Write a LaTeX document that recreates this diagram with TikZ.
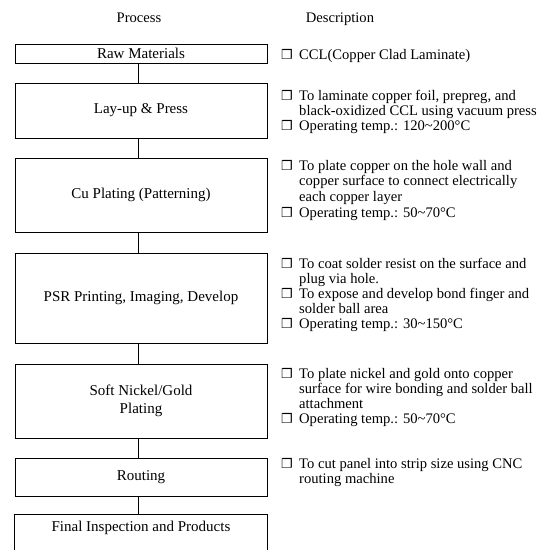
\documentclass[tikz,border=0pt]{standalone}
\usepackage{fontspec}
\setmainfont{Liberation Serif}
\newfontfamily\dejavufam{DejaVu Sans}
\newcommand\myboxfont{\fontsize{15}{18.5}\selectfont}
\newcommand\mydescfont{\fontsize{14.6}{15}\selectfont}
\newcommand\mybulfont{\dejavufam\fontsize{13}{13}\selectfont}
\tikzset{
  box/.style={draw, line width=1pt, minimum width=252pt, inner sep=0pt, font=\myboxfont, align=center},
  link/.style={line width=1pt},
  desc/.style={anchor=base west, inner sep=0pt, font=\mydescfont},
  bul/.style={anchor=base west, inner sep=0pt, font=\mybulfont},
  head/.style={anchor=base, inner sep=0pt, font=\mydescfont}
}
\begin{document}
\begin{tikzpicture}[x=1pt,y=-1pt]
\useasboundingbox (0,0) rectangle (548,550);
% headers
\node[head] (hproc) at (139,22) {Process};
\node[head] (hdesc) at (340,22) {Description};
% process boxes
\node[box, minimum height=19pt] (raw) at (141,53.5) {Raw Materials};
\node[box, minimum height=55pt] (lay) at (141,110.5) {Lay-up \& Press};
\node[box, minimum height=74pt] (cu) at (141,195) {Cu Plating (Patterning)};
\node[box, minimum height=90pt] (psr) at (141,298) {PSR Printing, Imaging, Develop};
\node[box, minimum height=74pt] (ni) at (141,401) {Soft Nickel/Gold\\Plating};
\node[box, minimum height=38pt] (rout) at (141,477) {Routing};
\node[box, draw=none, minimum height=35pt] (fin) at (141,532.5) {};
\draw[link] (fin.south west) -- (fin.north west) -- (fin.north east) -- (fin.south east);
\node[head, font=\myboxfont] (fintxt) at (141,531.5) {Final Inspection and Products};
% connectors
\draw[link] ([xshift=-3pt]raw.south) -- ([xshift=-3pt]lay.north);
\draw[link] ([xshift=-3pt]lay.south) -- ([xshift=-3pt]cu.north);
\draw[link] ([xshift=-3pt]cu.south) -- ([xshift=-3pt]psr.north);
\draw[link] ([xshift=-3pt]psr.south) -- ([xshift=-3pt]ni.north);
\draw[link] ([xshift=-3pt]ni.south) -- ([xshift=-3pt]rout.north);
\draw[link] ([xshift=-3pt]rout.south) -- ([xshift=-3pt]fin.north);
% descriptions
\node[bul] (b1) at (281,59) {❒};
\node[desc] (d1) at (299,59) {CCL(Copper Clad Laminate)};

\node[bul] (b2) at (281,100) {❒};
\node[desc] (d2) at (299,100) {To laminate copper foil, prepreg, and};
\node[desc] (d3) at (299,115) {black-oxidized CCL using vacuum press};
\node[bul] (b3) at (281,130) {❒};
\node[desc] (d4) at (299,130) {Operating temp.: 120\textasciitilde200°C};

\node[bul] (b4) at (281,170) {❒};
\node[desc] (d5) at (299,170) {To plate copper on the hole wall and};
\node[desc] (d6) at (299,185) {copper surface to connect electrically};
\node[desc] (d7) at (299,201) {each copper layer};
\node[bul] (b5) at (281,217) {❒};
\node[desc] (d8) at (299,217) {Operating temp.: 50\textasciitilde70°C};

\node[bul] (b6) at (281,268) {❒};
\node[desc] (d9) at (299,268) {To coat solder resist on the surface and};
\node[desc] (d10) at (299,283) {plug via hole.};
\node[bul] (b7) at (281,298) {❒};
\node[desc] (d11) at (299,298) {To expose and develop bond finger and};
\node[desc] (d12) at (299,313) {solder ball area};
\node[bul] (b8) at (281,328) {❒};
\node[desc] (d13) at (299,328) {Operating temp.: 30\textasciitilde150°C};

\node[bul] (b9) at (281,378) {❒};
\node[desc] (d14) at (299,378) {To plate nickel and gold onto copper};
\node[desc] (d15) at (299,393) {surface for wire bonding and solder ball};
\node[desc] (d16) at (299,408) {attachment};
\node[bul] (b10) at (281,423) {❒};
\node[desc] (d17) at (299,423) {Operating temp.: 50\textasciitilde70°C};

\node[bul] (b11) at (281,468) {❒};
\node[desc] (d18) at (299,468) {To cut panel into strip size using CNC};
\node[desc] (d19) at (299,483) {routing machine};
\end{tikzpicture}
\end{document}
